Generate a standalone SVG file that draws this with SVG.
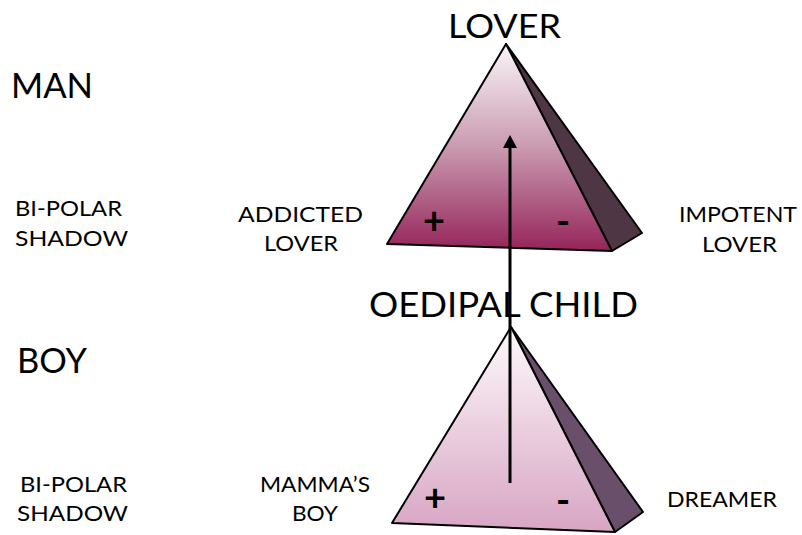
<svg xmlns="http://www.w3.org/2000/svg" width="802" height="535" viewBox="0 0 802 535">
<style>
text{font-family:Lato,"Open Sans","Liberation Sans",sans-serif;fill:#000;}
.big{font-size:35px;}
.mid{font-size:21px;}
.sign{font-size:38px;font-weight:bold;}
.edge{stroke:#000;stroke-width:2;stroke-linejoin:round;}
</style>
<defs>
<linearGradient id="gTop" x1="0" y1="0" x2="0" y2="1">
<stop offset="0" stop-color="#faf5f8"/>
<stop offset="0.5" stop-color="#c99ab0"/>
<stop offset="1" stop-color="#952459"/>
</linearGradient>
<linearGradient id="gBot" x1="0" y1="0" x2="0" y2="1">
<stop offset="0" stop-color="#fdf9fb"/>
<stop offset="1" stop-color="#d8a5c3"/>
</linearGradient>
<marker id="ah" markerWidth="13" markerHeight="14" refX="5" refY="7" orient="auto" markerUnits="userSpaceOnUse" viewBox="0 0 13 14">
<path d="M0,0 L13,7 L0,14 Z" fill="#000"/>
</marker>
</defs>
<rect width="802" height="535" fill="#fff"/>

<text class="big" x="11" y="98" textLength="82" lengthAdjust="spacingAndGlyphs">MAN</text>
<text class="mid" x="15" y="216" textLength="107" lengthAdjust="spacingAndGlyphs">BI-POLAR</text>
<text class="mid" x="15" y="246" textLength="113" lengthAdjust="spacingAndGlyphs">SHADOW</text>
<text class="big" x="17" y="373" textLength="70" lengthAdjust="spacingAndGlyphs">BOY</text>
<text class="mid" x="20" y="492" textLength="107" lengthAdjust="spacingAndGlyphs">BI-POLAR</text>
<text class="mid" x="17" y="521" textLength="111" lengthAdjust="spacingAndGlyphs">SHADOW</text>

<g id="node-lover">
<polygon class="edge" points="506,44 642,233 612,251" fill="#4f3645"/>
<polygon class="edge" points="506,44 387,244 612,251" fill="url(#gTop)"/>
<text class="sign" x="434" y="234" text-anchor="middle">+</text>
<text class="sign" x="563" y="235" text-anchor="middle">-</text>
<text class="big" x="448" y="38" style="font-size:32px" textLength="113" lengthAdjust="spacingAndGlyphs">LOVER</text>
</g>
<g id="node-addicted">
<text class="mid" x="238" y="222" textLength="125" lengthAdjust="spacingAndGlyphs">ADDICTED</text>
<text class="mid" x="264" y="251" textLength="74" lengthAdjust="spacingAndGlyphs">LOVER</text>
</g>
<g id="node-impotent">
<text class="mid" x="679" y="222" textLength="118" lengthAdjust="spacingAndGlyphs">IMPOTENT</text>
<text class="mid" x="702" y="252" textLength="75" lengthAdjust="spacingAndGlyphs">LOVER</text>
</g>

<g id="node-oedipal">
<polygon class="edge" points="511,327 643,512 615,532" fill="#6a4f6a"/>
<polygon class="edge" points="511,327 392,523 615,532" fill="url(#gBot)"/>
<text class="sign" x="435" y="511" text-anchor="middle">+</text>
<text class="sign" x="563" y="514" text-anchor="middle">-</text>
<text class="big" x="369" y="317" style="font-size:34px" textLength="269" lengthAdjust="spacingAndGlyphs">OEDIPAL CHILD</text>
</g>
<g id="node-mamma">
<text class="mid" x="260" y="492" textLength="110" lengthAdjust="spacingAndGlyphs">MAMMA’S</text>
<text class="mid" x="292" y="521" textLength="46" lengthAdjust="spacingAndGlyphs">BOY</text>
</g>
<g id="node-dreamer">
<text class="mid" x="667" y="507" textLength="110" lengthAdjust="spacingAndGlyphs">DREAMER</text>
</g>

<g id="connectors">
<line x1="510" y1="483" x2="510" y2="143" stroke="#000" stroke-width="3" marker-end="url(#ah)"/>
</g>
</svg>
